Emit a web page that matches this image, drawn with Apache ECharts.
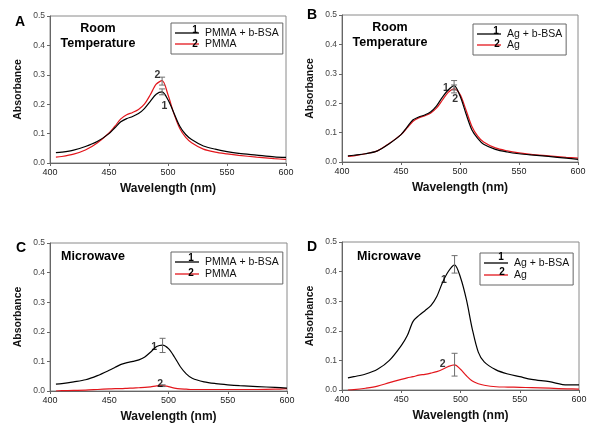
<!DOCTYPE html>
<html>
<head>
<meta charset="utf-8">
<script src="https://cdn.jsdelivr.net/npm/echarts@6/dist/echarts.min.js"></script>
<style>html,body{margin:0;padding:0;background:#fff}#c{width:601px;height:439px}</style>
</head>
<body>
<div id="c"></div>
<script>
// ---- data ----
const wavelength = [405,410,420,430,440,450,455,460,465,470,475,480,485,490,495,500,505,510,515,520,530,540,550,560,575,590,600];
// Panel A (Room temperature, PMMA)
const A_pmmaBSA = [0.035,0.037,0.044,0.056,0.073,0.100,0.120,0.140,0.151,0.158,0.168,0.185,0.210,0.234,0.242,0.215,0.170,0.125,0.097,0.080,0.058,0.047,0.039,0.033,0.027,0.021,0.019];
const A_pmma    = [0.020,0.022,0.030,0.044,0.068,0.102,0.125,0.150,0.164,0.172,0.182,0.200,0.232,0.268,0.280,0.232,0.168,0.117,0.087,0.069,0.047,0.037,0.031,0.026,0.020,0.015,0.012];
// Panel B (Room temperature, Ag)
const B_agBSA = [0.021,0.023,0.028,0.038,0.062,0.093,0.118,0.143,0.153,0.160,0.170,0.190,0.220,0.245,0.260,0.225,0.165,0.110,0.080,0.060,0.043,0.034,0.028,0.024,0.019,0.013,0.009];
const B_ag    = [0.019,0.021,0.028,0.038,0.063,0.093,0.115,0.138,0.150,0.157,0.166,0.183,0.210,0.237,0.249,0.230,0.178,0.122,0.088,0.068,0.048,0.038,0.031,0.026,0.021,0.016,0.013];
// Panel C (Microwave, PMMA)
const C_pmmaBSA = [0.023,0.025,0.031,0.038,0.052,0.070,0.080,0.090,0.096,0.100,0.105,0.115,0.132,0.150,0.155,0.143,0.115,0.082,0.058,0.043,0.031,0.025,0.021,0.018,0.015,0.012,0.010];
const C_pmma    = [0.000,0.001,0.002,0.003,0.005,0.007,0.008,0.008,0.009,0.010,0.011,0.012,0.014,0.017,0.018,0.015,0.010,0.007,0.006,0.005,0.005,0.005,0.005,0.005,0.005,0.006,0.008];
// Panel D (Microwave, Ag)
const D_agBSA = [0.041,0.045,0.054,0.070,0.100,0.150,0.183,0.232,0.252,0.268,0.285,0.316,0.365,0.402,0.423,0.380,0.305,0.205,0.128,0.095,0.068,0.054,0.045,0.036,0.028,0.017,0.017];
const D_ag    = [0.000,0.001,0.006,0.013,0.025,0.036,0.041,0.045,0.050,0.053,0.057,0.062,0.070,0.080,0.085,0.070,0.048,0.030,0.021,0.016,0.011,0.010,0.009,0.008,0.006,0.004,0.003];
// error bars at peak: [wavelength, low, high]
const A_err = [[495,0.232,0.252],[495,0.265,0.292]];
const B_err = [[495,0.245,0.277],[495,0.235,0.262]];
const C_err = [[495,0.130,0.178],[495,0.015,0.021]];
const D_err = [[495,0.395,0.454],[495,0.047,0.124]];
// curve number labels: [wavelength, value, text]
const A_lab = [[497,0.193,'1'],[491,0.300,'2']];
const B_lab = [[488,0.250,'1'],[496,0.213,'2']];
const C_lab = [[488,0.149,'1'],[493,0.024,'2']];
const D_lab = [[486,0.370,'1'],[485,0.088,'2']];
const xTicks = {min:400, max:600, interval:50};
const yTicks = {min:0, max:0.5, interval:0.1};
const panelLetters = ['A','B','C','D'];
const panelTitles = ['Room\nTemperature','Room\nTemperature','Microwave','Microwave'];
const namesPMMA = ['PMMA + b-BSA','PMMA'];
const namesAg = ['Ag + b-BSA','Ag'];

// ---- chart ----
const FONT = 'Arial, "Liberation Sans", sans-serif';
const BLACK = '#000000', RED = '#e3161c';
const grids = [
  {left:50, top:16, right:315, bottom:276},
  {left:342, top:15, right:23, bottom:277},
  {left:50, top:243, right:314, bottom:48},
  {left:342, top:242, right:22, bottom:49}
];
const panels = [
  {s1:A_pmmaBSA, s2:A_pmma, err:A_err, lab:A_lab, names:namesPMMA},
  {s1:B_agBSA, s2:B_ag, err:B_err, lab:B_lab, names:namesAg},
  {s1:C_pmmaBSA, s2:C_pmma, err:C_err, lab:C_lab, names:namesPMMA},
  {s1:D_agBSA, s2:D_ag, err:D_err, lab:D_lab, names:namesAg}
];
const zip = (xs, ys) => xs.map((x,i)=>[x, ys[i]]);

const xAxis = [], yAxis = [], series = [];
grids.forEach((g,i)=>{
  g.show = true; g.borderColor = '#8a8a8a'; g.borderWidth = 1;
  xAxis.push({type:'value', gridIndex:i, min:xTicks.min, max:xTicks.max, interval:xTicks.interval,
    name:'Wavelength (nm)', nameLocation:'middle', nameGap:20,
    nameTextStyle:{fontFamily:FONT, fontWeight:'bold', fontSize:12, color:'#111'},
    axisLine:{show:true, onZero:false, lineStyle:{color:'#666', width:1}},
    axisTick:{show:true, length:3, lineStyle:{color:'#666'}},
    axisLabel:{fontFamily:FONT, fontSize:9, color:'#222', margin:5},
    splitLine:{show:false}});
  yAxis.push({type:'value', gridIndex:i, min:yTicks.min, max:yTicks.max, interval:yTicks.interval,
    name:'Absorbance', nameLocation:'middle', nameGap:26, nameRotate:90,
    nameTextStyle:{fontFamily:FONT, fontWeight:'bold', fontSize:10.5, color:'#111'},
    axisLine:{show:true, lineStyle:{color:'#666', width:1}},
    axisTick:{show:true, length:3, lineStyle:{color:'#666'}},
    axisLabel:{fontFamily:FONT, fontSize:8.5, color:'#444', margin:5, formatter:v=>v.toFixed(1)},
    splitLine:{show:false}});
  const p = panels[i];
  series.push({type:'line', name:p.names[0], xAxisIndex:i, yAxisIndex:i, data:zip(wavelength,p.s1),
    showSymbol:false, smooth:0.3, color:BLACK, lineStyle:{color:BLACK, width:1.2}, z:3});
  series.push({type:'line', name:p.names[1], xAxisIndex:i, yAxisIndex:i, data:zip(wavelength,p.s2),
    showSymbol:false, smooth:0.3, color:RED, lineStyle:{color:RED, width:1.2}, z:2});
  series.push({type:'custom', name:'err'+i, xAxisIndex:i, yAxisIndex:i, data:p.err, encode:{x:0, y:[1,2]},
    z:4, silent:true,
    renderItem:(params, api)=>{
      const x = api.value(0);
      const lo = api.coord([x, api.value(1)]);
      const hi = api.coord([x, api.value(2)]);
      const w = 3, st = {stroke:'#6e6e6e', lineWidth:1};
      return {type:'group', children:[
        {type:'line', shape:{x1:lo[0], y1:lo[1], x2:hi[0], y2:hi[1]}, style:st},
        {type:'line', shape:{x1:hi[0]-w, y1:hi[1], x2:hi[0]+w, y2:hi[1]}, style:st},
        {type:'line', shape:{x1:lo[0]-w, y1:lo[1], x2:lo[0]+w, y2:lo[1]}, style:st}
      ]};
    }});
  series.push({type:'scatter', name:'lab'+i, xAxisIndex:i, yAxisIndex:i, data:p.lab, symbolSize:1,
    itemStyle:{color:'rgba(0,0,0,0)'}, silent:true, z:5,
    label:{show:true, position:'inside', formatter:q=>q.value[2], fontFamily:FONT, fontWeight:'bold', fontSize:10.5, color:'#000'}});
});

const legendBoxes = [
  {left:171, top:23, names:namesPMMA, gap:0},
  {left:473, top:24, names:namesAg, gap:0},
  {left:171, top:252, names:namesPMMA, gap:1},
  {left:480, top:253, names:namesAg, gap:1}
];
const legend = legendBoxes.map(b=>({
  left:b.left, top:b.top, orient:'vertical', data:b.names, icon:'rect', itemWidth:24, itemHeight:1.3,
  itemGap:b.gap, padding:[4.5,4,4.5,4], borderColor:'#666', borderWidth:1, selectedMode:false,
  textStyle:{fontFamily:FONT, fontSize:10.5, color:'#111', lineHeight:11, padding:[0,0,0,1]}
}));

const graphic = [];
const letterPos = [[20,22],[312,15],[21,248],[312,247]];
const titlePos = [[98,36],[390,35],[93,257],[389,257]];
letterPos.forEach((p,i)=>graphic.push({type:'text', x:p[0], y:p[1],
  style:{text:panelLetters[i], font:'bold 14px '+FONT, fill:'#000', textAlign:'center', textVerticalAlign:'middle'}}));
titlePos.forEach((p,i)=>graphic.push({type:'text', x:p[0], y:p[1],
  style:{text:panelTitles[i], font:'bold 12.5px '+FONT, fill:'#000', textAlign:'center', textVerticalAlign:'middle', lineHeight:15}}));
const legNums = [[195,30,'1'],[195,44,'2'],[496,31,'1'],[497,44,'2'],[191,258,'1'],[191,273,'2'],[501,257,'1'],[502,272,'2']];
legNums.forEach(n=>graphic.push({type:'text', x:n[0], y:n[1], z:10,
  style:{text:n[2], font:'bold 10px '+FONT, fill:'#000', textAlign:'center', textVerticalAlign:'middle'}}));

const chart = echarts.init(document.getElementById('c'), null, {renderer:'canvas'});
chart.setOption({animation:false, backgroundColor:'#fff', grid:grids, xAxis, yAxis, series, legend, graphic});
</script>
</body>
</html>
